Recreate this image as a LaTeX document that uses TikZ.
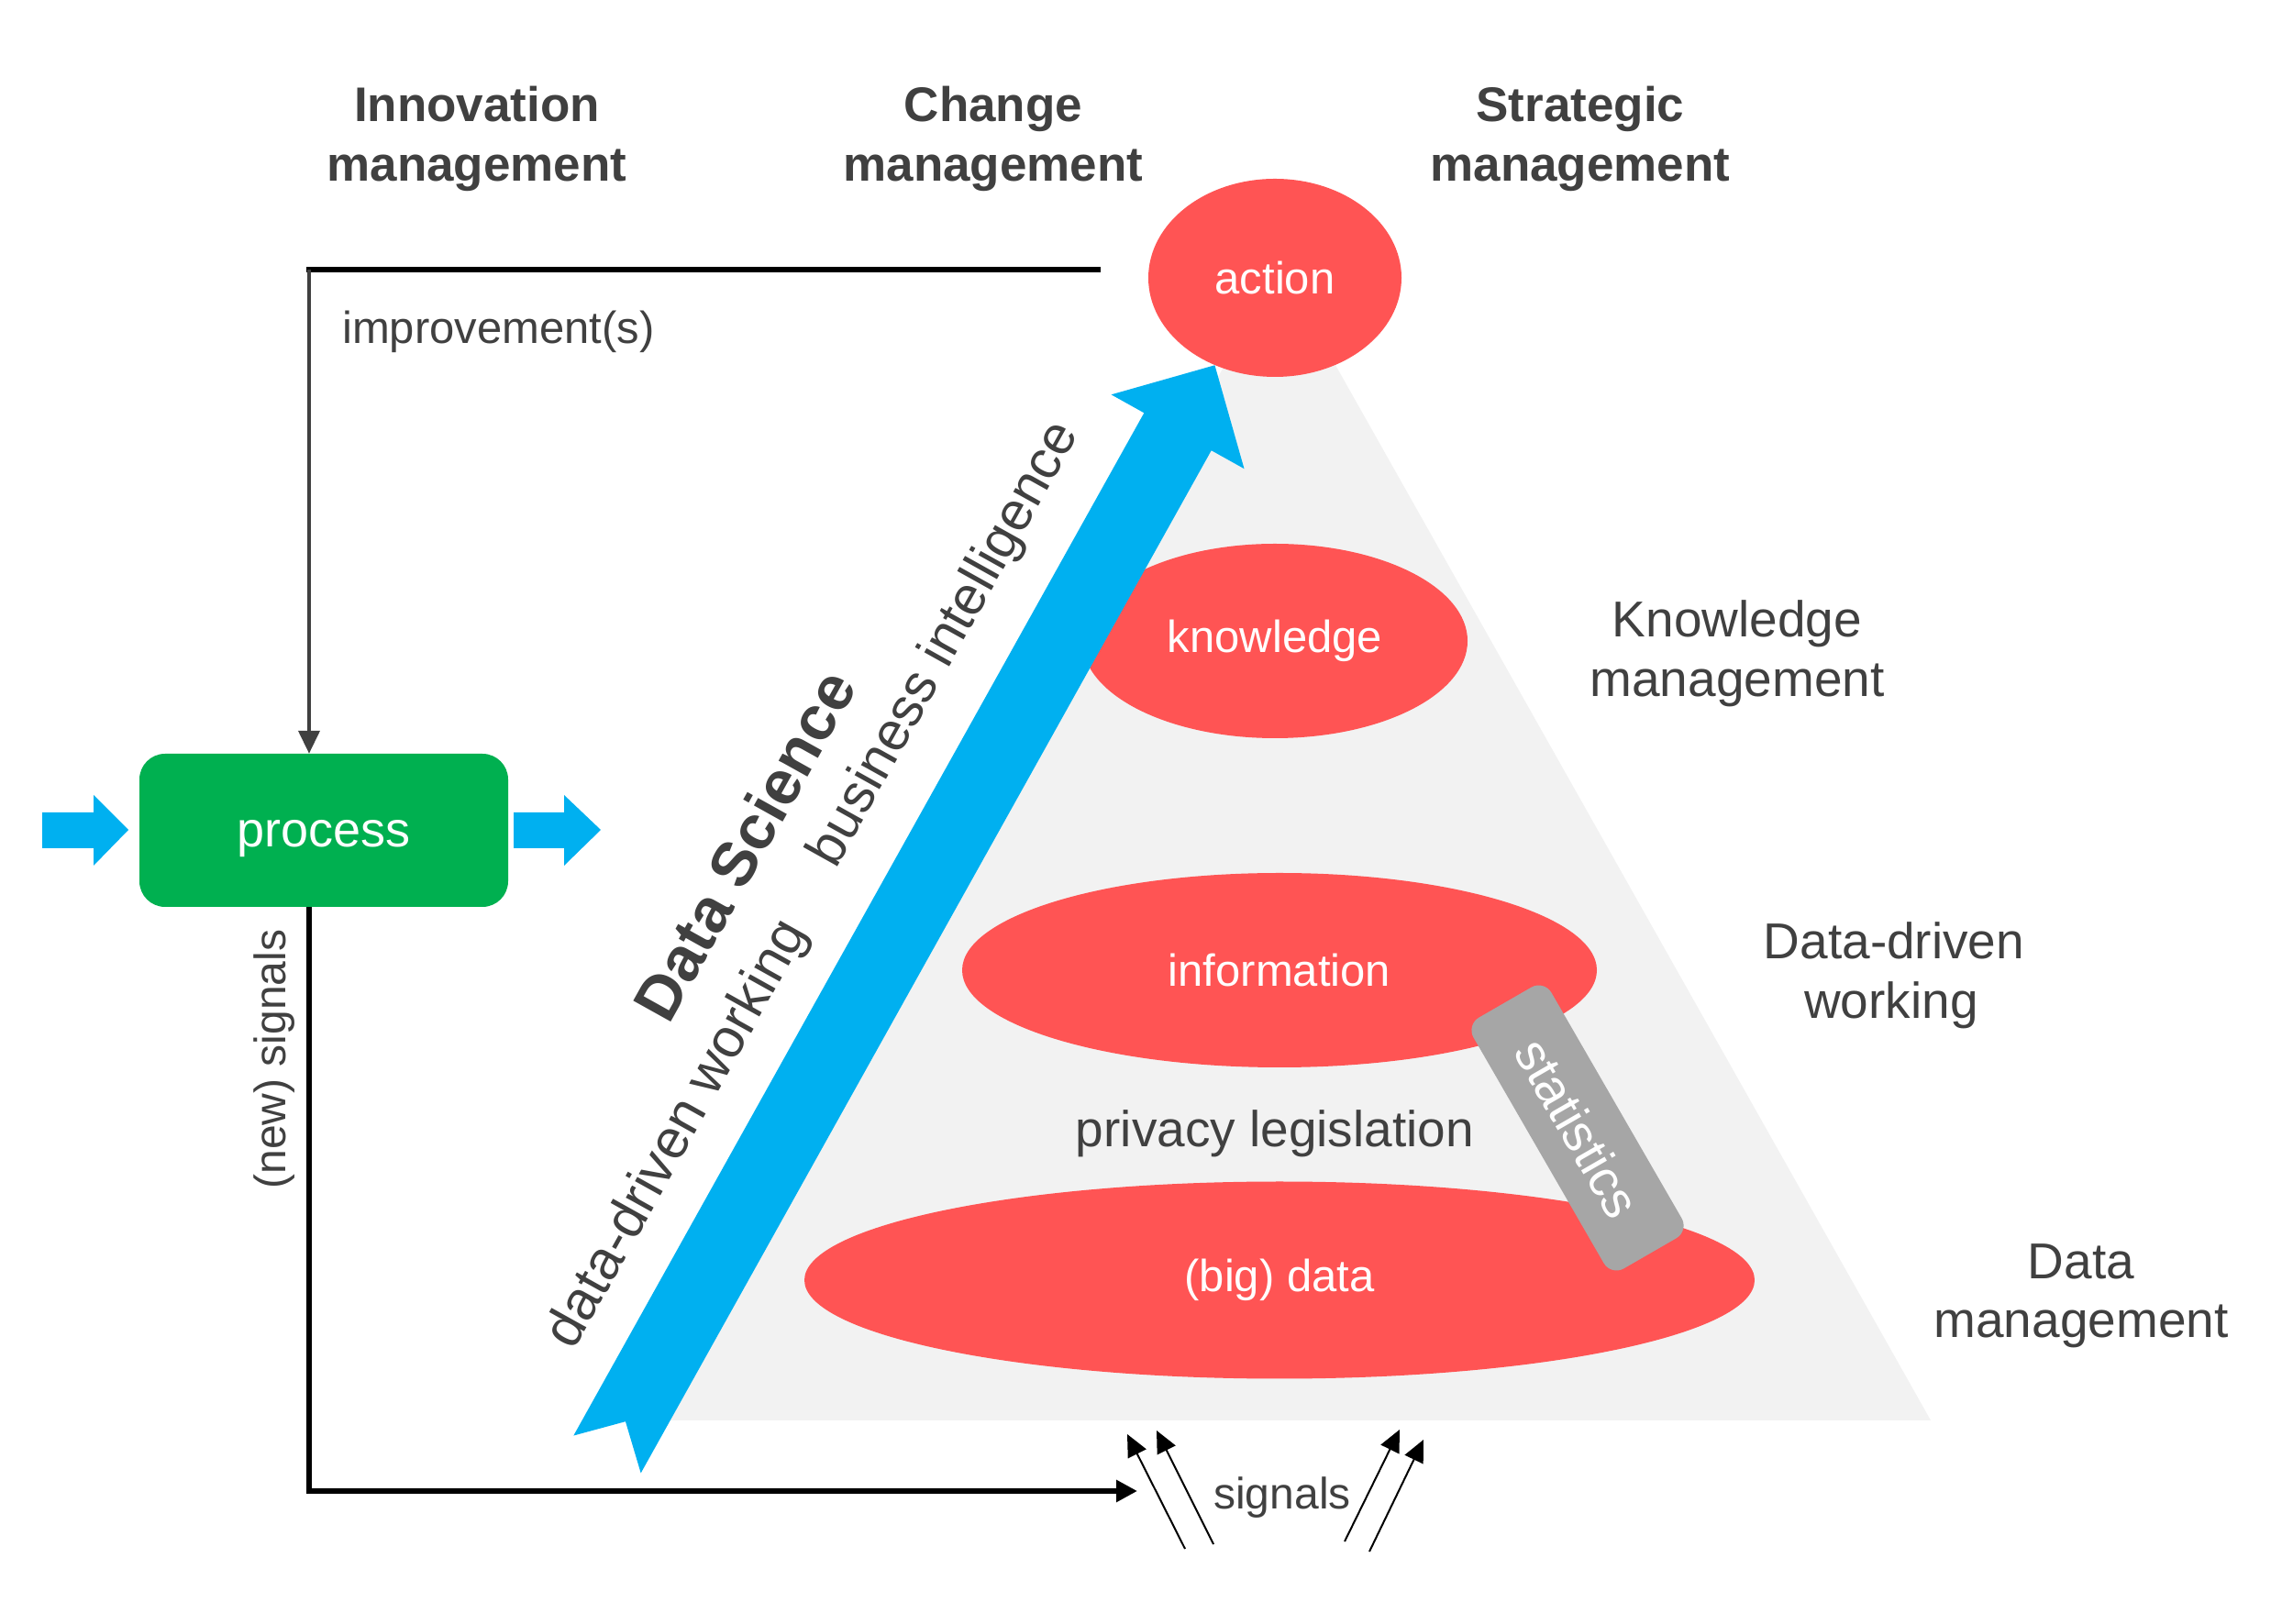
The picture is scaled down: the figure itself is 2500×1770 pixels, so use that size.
\documentclass[tikz,border=0pt]{standalone}
\usepackage{fontspec}
\setmainfont{Liberation Sans}
\usetikzlibrary{arrows.meta,shapes.geometric}
\definecolor{dsred}{HTML}{FF5454}
\definecolor{dsgray}{HTML}{F2F2F2}
\definecolor{dsblue}{HTML}{00B0F0}
\definecolor{dsgreen}{HTML}{00B050}
\definecolor{dstext}{HTML}{404040}
\definecolor{dsstat}{HTML}{A6A6A6}
\newcommand\myfs[1]{\fontsize{#1}{#1}\selectfont}
\begin{document}
\begin{tikzpicture}[x=1pt,y=1pt,
  lab/.style={text=dstext, inner sep=0pt, anchor=base},
  head/.style={lab, font=\myfs{53}\bfseries},
  side/.style={lab, font=\myfs{55}},
  blob/.style={ellipse, fill=dsred, text=white, inner sep=0pt, font=\myfs{49}},
  proc/.style={rectangle, rounded corners=28pt, fill=dsgreen, text=white, inner sep=0pt,
    minimum width=402pt, minimum height=167pt, font=\myfs{54}, text height=40pt, text depth=3pt},
  stat/.style={rectangle, rounded corners=16pt, fill=dsstat, text=white, inner sep=0pt,
    minimum width=316pt, minimum height=98pt, font=\myfs{56}, rotate=-60},
  along/.style={text=dstext, inner sep=0pt, anchor=center, rotate=60.85},
  bluearrow/.style={fill=dsblue},
  sig/.style={line width=2pt, -{Triangle[length=24pt,width=22pt]}}
]
\useasboundingbox (0,0) rectangle (2500,1770);
\fill[white] (0,0) rectangle (2500,1770);

% pyramid background
\fill[dsgray] (1395,1480) -- (2105,221) -- (700,221) -- cycle;

% layers
\node[blob, minimum width=276pt, minimum height=216pt] (action) at (1390,1467) {action};
\node[blob, minimum width=420pt, minimum height=212pt] (know) at (1390,1071) {knowledge};
\node[blob, minimum width=692pt, minimum height=212pt] (info) at (1395,712) {information};
\node[blob, minimum width=1036pt, minimum height=215pt] (data) at (1395,374) {(big) data};
\node[lab, font=\myfs{55}] (privacy) at (1390,519) {privacy legislation};
\node[stat] (stats) at (1720,540) {statistics};

% big blue arrow with its texts
\begin{scope}[shift={(662,184)}, rotate=60.85]
  \fill[bluearrow] (0,42) -- (41,0) -- (0,-42) -- (1277,-42) -- (1277,-83) -- (1360,0)
    -- (1277,83) -- (1277,42) -- cycle;
  \node[along, font=\myfs{68}\bfseries] (ds) at (653,193) {Data Science};
  \node[along, font=\myfs{59}] (bi) at (951,108) {business intelligence};
  \node[along, font=\myfs{60}] (ddw) at (342,102) {data-driven working};
\end{scope}

% headings
\node[head] (h1a) at (520,1637) {Innovation};
\node[head] (h1b) at (520,1572) {management};
\node[head] (h2a) at (1083,1637) {Change};
\node[head] (h2b) at (1083,1572) {management};
\node[head] (h3a) at (1723,1637) {Strategic};
\node[head] (h3b) at (1723,1572) {management};

% right labels
\node[side] (k1) at (1894,1075) {Knowledge};
\node[side] (k2) at (1894,1010) {management};
\node[side] (w1) at (2065,724) {Data-driven};
\node[side] (w2) at (2062,659) {working};
\node[side] (d1) at (2269,375) {Data};
\node[side] (d2) at (2269,311) {management};

% process
\node[proc] (process) at (353,864.5) {process};
\fill[bluearrow] (46,845) -- (102,845) -- (102,826) -- (140,865) -- (102,903) -- (102,884) -- (46,884) -- cycle;
\fill[bluearrow] (560,845) -- (615,845) -- (615,826) -- (655,865) -- (615,903) -- (615,884) -- (560,884) -- cycle;

% feedback loop
\coordinate (topc) at (337,1476);
\coordinate (topl) at (334,1476);
\draw[line width=6.5pt, black, shorten >=52pt] (topl) -- (topl -| action.west);
\draw[dstext, line width=4pt, -{Triangle[length=25pt,width=23pt]}] (topc) -- (topc |- process.north);
\node[lab, anchor=base west, font=\myfs{49}] (impr) at (373,1395) {improvement(s)};

\coordinate (botc) at (337,144);
\coordinate (sigend) at (1240,144);
\draw[line width=6pt, black, -{Triangle[length=23pt,width=23pt]}] (process.south -| botc) -- (botc) -- (sigend);
\node[lab, rotate=90, font=\myfs{48}] (newsig) at (311,615) {(new) signals};

% incoming signals
\coordinate (s1a) at (1292,81);  \coordinate (s1b) at (1229,206);
\coordinate (s2a) at (1323,86);  \coordinate (s2b) at (1261,210);
\coordinate (s3a) at (1466,89);  \coordinate (s3b) at (1526,211);
\coordinate (s4a) at (1493,78);  \coordinate (s4b) at (1552,200);
\draw[sig] (s1a) -- (s1b);
\draw[sig] (s2a) -- (s2b);
\draw[sig] (s3a) -- (s3b);
\draw[sig] (s4a) -- (s4b);
\node[lab, font=\myfs{48}] (signals) at (1398,125) {signals};
\end{tikzpicture}
\end{document}
